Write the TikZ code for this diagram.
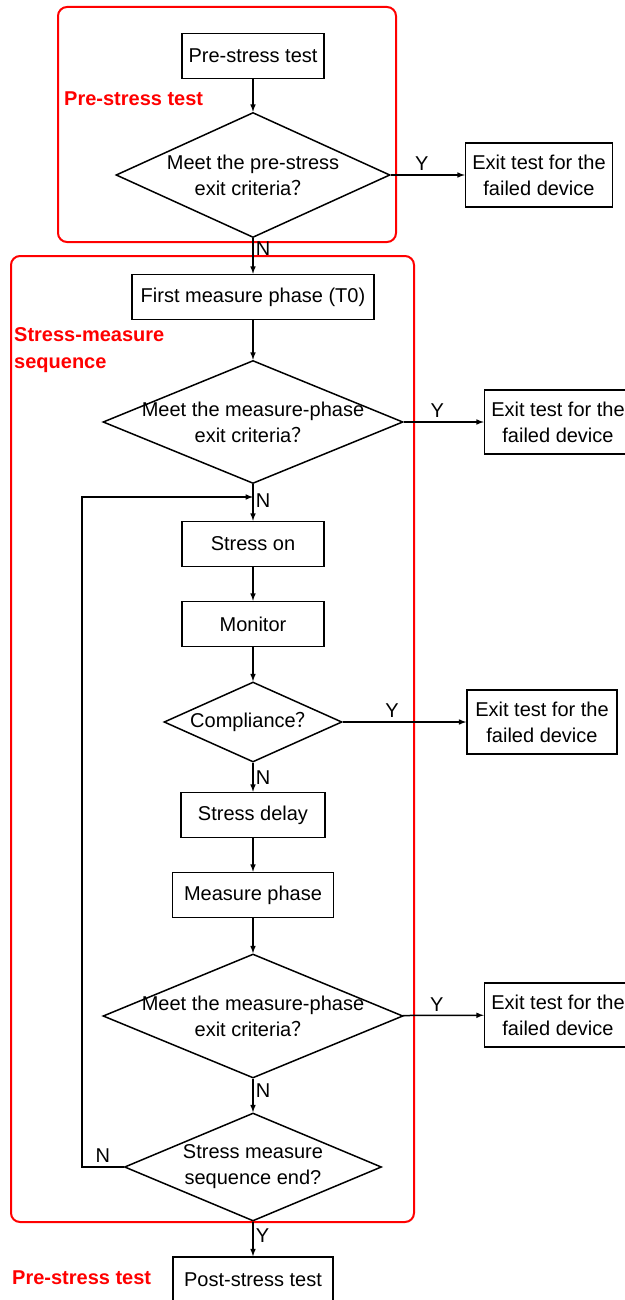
\documentclass[tikz,border=0pt]{standalone}
\usepackage{fontspec}
\setmainfont{Liberation Sans}
\newfontfamily\cjk{Noto Sans CJK SC}
\usetikzlibrary{shapes.geometric,positioning}
\newcommand{\fq}{{\cjk ？}}

\begin{document}
\begin{tikzpicture}[x=1pt,y=-1pt,
        font=\fontsize{20}{26}\selectfont,
        procbox/.style={draw,line width=1.5pt,minimum height=45pt,inner sep=3pt},
        exitbox/.style={draw,line width=1.5pt,align=center,minimum height=64pt,minimum width=147pt,inner sep=2pt},
        decision/.style={draw,diamond,line width=1.5pt,inner sep=0pt},
        redframe/.style={draw=red,line width=2pt,rounded corners=9pt},
        redlabel/.style={text=red,font=\fontsize{20}{27}\selectfont\bfseries,align=left,inner sep=0pt},
        flow/.style={->,>=latex,line width=1.5pt}]

        \useasboundingbox (0,0) rectangle (624,1300);

        \draw[redframe] (58,7) rectangle (396,242);
        \draw[redframe] (11,256) rectangle (414,1222);

        \node[redlabel,anchor=west] (lbpre) at (64,99) {Pre-stress test};
        \node[redlabel,anchor=north west] (lbseq) at (14,327) {Stress-measure\\sequence};
        \node[redlabel,anchor=west] (lbpost) at (12,1278) {Pre-stress test};

        \node[procbox,minimum width=142pt] (pre) at (253,56) {Pre-stress test};
        \node[decision,minimum width=274pt,minimum height=125pt,
              label={[align=center]center:Meet the pre-stress\\exit criteria\fq}] (d1) at (253,175) {};
        \node[exitbox] (ex1) at (539,175) {Exit test for the\\failed device};

        \node[procbox,minimum width=242pt] (fm) at (253,297) {First measure phase (T0)};
        \node[decision,minimum width=300pt,minimum height=123pt,
              label={[align=center]center:Meet the measure-phase\\exit criteria\fq}] (d2) at (253,422) {};
        \node[exitbox] (ex2) at (558,422) {Exit test for the\\failed device};

        \coordinate (join) at (253,497);
        \coordinate (back) at (82,497);

        \node[procbox,minimum width=142pt] (son) at (253,544) {Stress on};
        \node[procbox,minimum width=142pt] (mon) at (253,624) {Monitor};
        \node[decision,minimum width=178pt,minimum height=80pt,
              label={center:Compliance\fq}] (d3) at (253,722) {};
        \node[exitbox,minimum width=150pt] (ex3) at (542,722) {Exit test for the\\failed device};

        \node[procbox,minimum width=144pt] (sd) at (253,815) {Stress delay};
        \node[procbox,minimum width=161pt] (mp) at (253,895) {Measure phase};
        \node[decision,minimum width=300pt,minimum height=124pt,
              label={[align=center]center:Meet the measure-phase\\exit criteria\fq}] (d4) at (253,1016) {};
        \node[exitbox] (ex4) at (558,1015) {Exit test for the\\failed device};

        \node[decision,minimum width=257pt,minimum height=108pt,
              label={[align=center]center:Stress measure\\sequence end?}] (d5) at (253,1167) {};
        \node[procbox,minimum width=160pt,minimum height=46pt] (post) at (253,1280) {Post-stress test};

        \draw[flow] (pre) -- (d1);
        \draw[flow] (d1) -- node[pos=0.42,above]{Y} (ex1);
        \draw[flow] (d1) -- node[pos=0.3,right,inner sep=2pt]{N} (fm);
        \draw[flow] (fm) -- (d2);
        \draw[flow] (d2) -- node[pos=0.42,above]{Y} (ex2);
        \draw[flow] (d2) -- node[pos=0.45,right,inner sep=2pt]{N} (son);
        \draw[flow] (son) -- (mon);
        \draw[flow] (mon) -- (d3);
        \draw[flow] (d3) -- node[pos=0.4,above]{Y} (ex3);
        \draw[flow] (d3) -- node[pos=0.5,right,inner sep=2pt]{N} (sd);
        \draw[flow] (sd) -- (mp);
        \draw[flow] (mp) -- (d4);
        \draw[flow] (d4) -- node[pos=0.42,above]{Y} (ex4);
        \draw[flow] (d4) -- node[pos=0.35,right,inner sep=2pt]{N} (d5);
        \draw[flow] (d5) -- node[pos=0.4,right,inner sep=2pt]{Y} (post);
        \draw[flow] (d5.west) -| node[pos=0.25,above]{N} (back) -- (join);
      \end{tikzpicture}
\end{document}
